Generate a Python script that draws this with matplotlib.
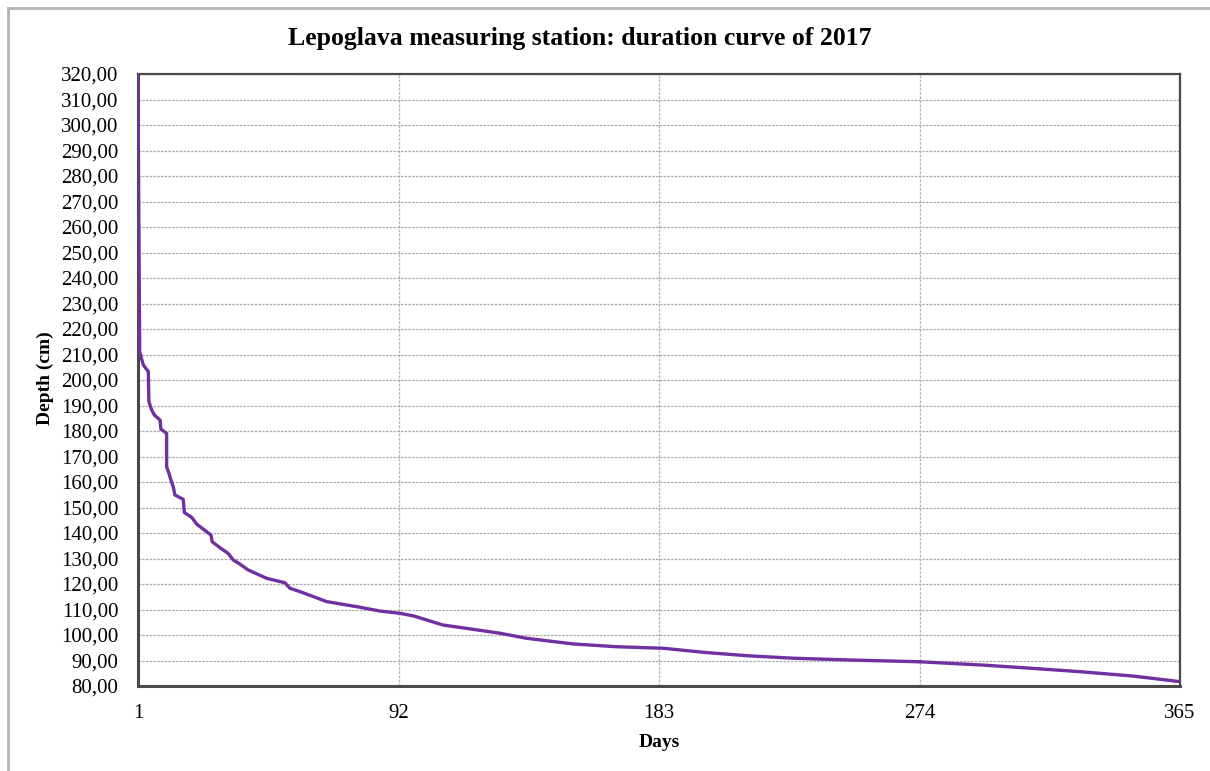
import numpy as np
import matplotlib
matplotlib.use("Agg")
import matplotlib.pyplot as plt
from matplotlib.lines import Line2D
from matplotlib.ticker import FuncFormatter

# duration curve breakpoints: day of year vs. depth (cm)
days = [1, 1.2, 1.6, 2.85, 4.6, 4.8, 5.8, 6.7, 8.7, 9.0, 11.0, 11.0, 11.8, 12.5,
        13.3, 13.9, 16.8, 17.2, 19.8, 21.5, 26.5, 26.9, 29.9, 32.5, 34.3, 36.6,
        39.5, 46.0, 52.3, 54.1, 57.6, 66.9, 78.5, 85.5, 92.5, 97.2, 107.6,
        115.8, 127.4, 136.8, 153.0, 168.2, 184.5, 199.6, 214.8, 229.9, 249.7,
        274.1, 296.2, 313.7, 330.2, 348.6, 365]
depth = [320, 277, 211, 205.9, 203.3, 191.5, 188.2, 186.3, 184.3, 180.7, 179.1,
         166.0, 163.4, 160.8, 158.2, 154.9, 153.2, 148.0, 146.1, 143.5, 139.2,
         136.6, 134.0, 132.0, 129.4, 127.8, 125.5, 122.2, 120.5, 118.3, 117.0,
         113.1, 110.9, 109.4, 108.5, 107.5, 103.9, 102.6, 100.7, 98.7, 96.5,
         95.4, 94.8, 93.1, 91.8, 90.9, 90.2, 89.5, 88.2, 86.9, 85.6, 83.9, 81.7]

x_ticks = [1, 92, 183, 274, 365]
y_ticks = np.arange(80, 321, 10)

plt.rcParams['font.family'] = ['Liberation Serif', 'DejaVu Serif']

fig = plt.figure(figsize=(12.1, 7.71), dpi=100)
ax = fig.add_axes([138 / 1210, 1 - 686 / 771, (1180 - 138) / 1210, (686 - 74) / 771])

ax.plot(days, depth, color='#7030A0', linewidth=2.4, solid_joinstyle='round', zorder=3)

ax.set_xlim(1, 365)
ax.set_ylim(80, 320)
ax.set_xticks(x_ticks)
ax.set_yticks(y_ticks)
ax.yaxis.set_major_formatter(FuncFormatter(lambda v, p: f"{v:.2f}".replace('.', ',')))
ax.tick_params(axis='both', length=0, labelsize=15, colors='black')
ax.tick_params(axis='y', pad=14)
ax.tick_params(axis='x', pad=13)

ax.grid(True, axis='y', color='#a8a8a8', linestyle=(0, (2, 1)), linewidth=0.9)
ax.grid(True, axis='x', color='#b8b8b8', linestyle=(0, (2, 1)), linewidth=1.0)
ax.set_axisbelow(True)

for side in ['left', 'bottom']:
    ax.spines[side].set_linewidth(2.2)
    ax.spines[side].set_color('#4a4a4a')
for side in ['top', 'right']:
    ax.spines[side].set_linewidth(1.6)
    ax.spines[side].set_color('#4a4a4a')

ax.set_ylabel('Depth (cm)', fontsize=14, fontweight='bold', va='center')
ax.yaxis.set_label_coords(-0.089, 0.503)
ax.set_xlabel('Days', fontsize=14, fontweight='bold', va='center')
ax.xaxis.set_label_coords(0.5, -0.093)

fig.text(580 / 1210, 1 - 38 / 771, 'Lepoglava measuring station: duration curve of 2017',
         ha='center', va='center', fontsize=18.5, fontweight='bold')

# light frame around the chart area
fx, fy = 8 / 1210, 1 - 8 / 771
fig.add_artist(Line2D([fx, fx], [0, fy], color='#b4b4b4', linewidth=2, transform=fig.transFigure))
fig.add_artist(Line2D([fx, 1], [fy, fy], color='#b4b4b4', linewidth=2, transform=fig.transFigure))

fig.savefig('out.png', dpi=100)
